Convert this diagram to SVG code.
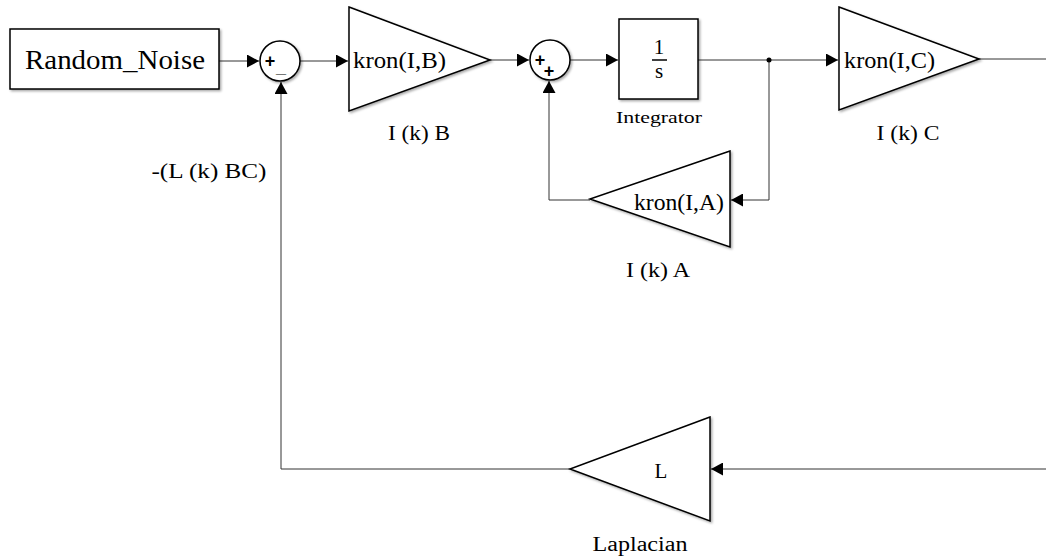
<svg xmlns="http://www.w3.org/2000/svg" width="1046" height="559" viewBox="0 0 1046 559">
<defs>
<marker id="ah" markerWidth="13" markerHeight="13" refX="12" refY="6.5" orient="auto" markerUnits="userSpaceOnUse">
<path d="M0,0 L12,6.5 L0,13 Z" fill="#000"/>
</marker>
<filter id="sh" x="-10%" y="-10%" width="130%" height="130%">
<feDropShadow dx="1.5" dy="1.5" stdDeviation="1" flood-color="#000" flood-opacity="0.35"/>
</filter>
</defs>
<style>
.blk{fill:#fff;stroke:#000;stroke-width:1.5;filter:url(#sh)}
.ln{fill:none;stroke:#333;stroke-width:1}
.t{font-family:"Liberation Serif","Times New Roman",serif;fill:#000}
.sg{font-family:"Liberation Sans",Arial,sans-serif;fill:#000;font-weight:bold}
</style>
<rect width="1046" height="559" fill="#fff"/>
<g id="connectors">
<line class="ln" x1="219" y1="61" x2="259" y2="61" marker-end="url(#ah)"/>
<line class="ln" x1="300" y1="61" x2="348" y2="61" marker-end="url(#ah)"/>
<line class="ln" x1="490" y1="60" x2="529" y2="60" marker-end="url(#ah)"/>
<line class="ln" x1="570" y1="60" x2="618" y2="60" marker-end="url(#ah)"/>
<line class="ln" x1="698" y1="60" x2="838" y2="60" marker-end="url(#ah)"/>
<polyline class="ln" points="769,60 769,200 731,200" marker-end="url(#ah)"/>
<polyline class="ln" points="590,200 549,200 549,81" marker-end="url(#ah)"/>
<line class="ln" x1="979" y1="59" x2="1046" y2="59"/>
<line class="ln" x1="1046" y1="469" x2="711" y2="469" marker-end="url(#ah)"/>
<polyline class="ln" points="570,469 281,469 281,82" marker-end="url(#ah)"/>
<circle cx="769" cy="60" r="2.5" fill="#000"/>
</g>
<g id="random_noise">
<rect class="blk" x="10" y="29" width="209" height="60"/>
<text class="t" x="115" y="69" font-size="27" text-anchor="middle" textLength="180" lengthAdjust="spacingAndGlyphs">Random_Noise</text>
</g>
<g id="sum1">
<circle class="blk" cx="280" cy="61" r="20"/>
<text class="sg" x="270" y="67" font-size="18" text-anchor="middle">+</text>
<text class="sg" x="281" y="73" font-size="18" text-anchor="middle">_</text>
</g>
<g id="gain_b">
<polygon class="blk" points="349,7 490,60 349,111"/>
<text class="t" x="353" y="68" font-size="23" textLength="93" lengthAdjust="spacingAndGlyphs">kron(I,B)</text>
<text class="t" x="419" y="140" font-size="20" text-anchor="middle" textLength="62" lengthAdjust="spacingAndGlyphs">I (k) B</text>
</g>
<g id="sum2">
<circle class="blk" cx="550" cy="60" r="20"/>
<text class="sg" x="540" y="66" font-size="18" text-anchor="middle">+</text>
<text class="sg" x="549" y="77" font-size="18" text-anchor="middle">+</text>
</g>
<g id="integrator">
<rect class="blk" x="619" y="19" width="79" height="80"/>
<text class="t" x="659" y="54" font-size="21" text-anchor="middle">1</text>
<line x1="652" y1="60" x2="667" y2="60" stroke="#000" stroke-width="1.5"/>
<text class="t" x="659" y="78" font-size="21" text-anchor="middle">s</text>
<text class="t" x="659" y="123" font-size="16" text-anchor="middle" textLength="86" lengthAdjust="spacingAndGlyphs">Integrator</text>
</g>
<g id="gain_a">
<polygon class="blk" points="730,151 590,199 730,247"/>
<text class="t" x="634" y="210" font-size="23" textLength="90" lengthAdjust="spacingAndGlyphs">kron(I,A)</text>
<text class="t" x="658" y="277" font-size="20" text-anchor="middle" textLength="64" lengthAdjust="spacingAndGlyphs">I (k) A</text>
</g>
<g id="gain_c">
<polygon class="blk" points="839,7 979,59 839,110"/>
<text class="t" x="844" y="68" font-size="23" textLength="91" lengthAdjust="spacingAndGlyphs">kron(I,C)</text>
<text class="t" x="908" y="140" font-size="20" text-anchor="middle" textLength="63" lengthAdjust="spacingAndGlyphs">I (k) C</text>
</g>
<g id="laplacian">
<polygon class="blk" points="710,417 570,469 710,521"/>
<text class="t" x="661" y="478" font-size="21" text-anchor="middle">L</text>
<text class="t" x="640" y="551" font-size="20" text-anchor="middle" textLength="95" lengthAdjust="spacingAndGlyphs">Laplacian</text>
</g>
<g id="label_lbc">
<text class="t" x="209" y="178" font-size="20" text-anchor="middle" textLength="115" lengthAdjust="spacingAndGlyphs">-(L (k) BC)</text>
</g>
</svg>
